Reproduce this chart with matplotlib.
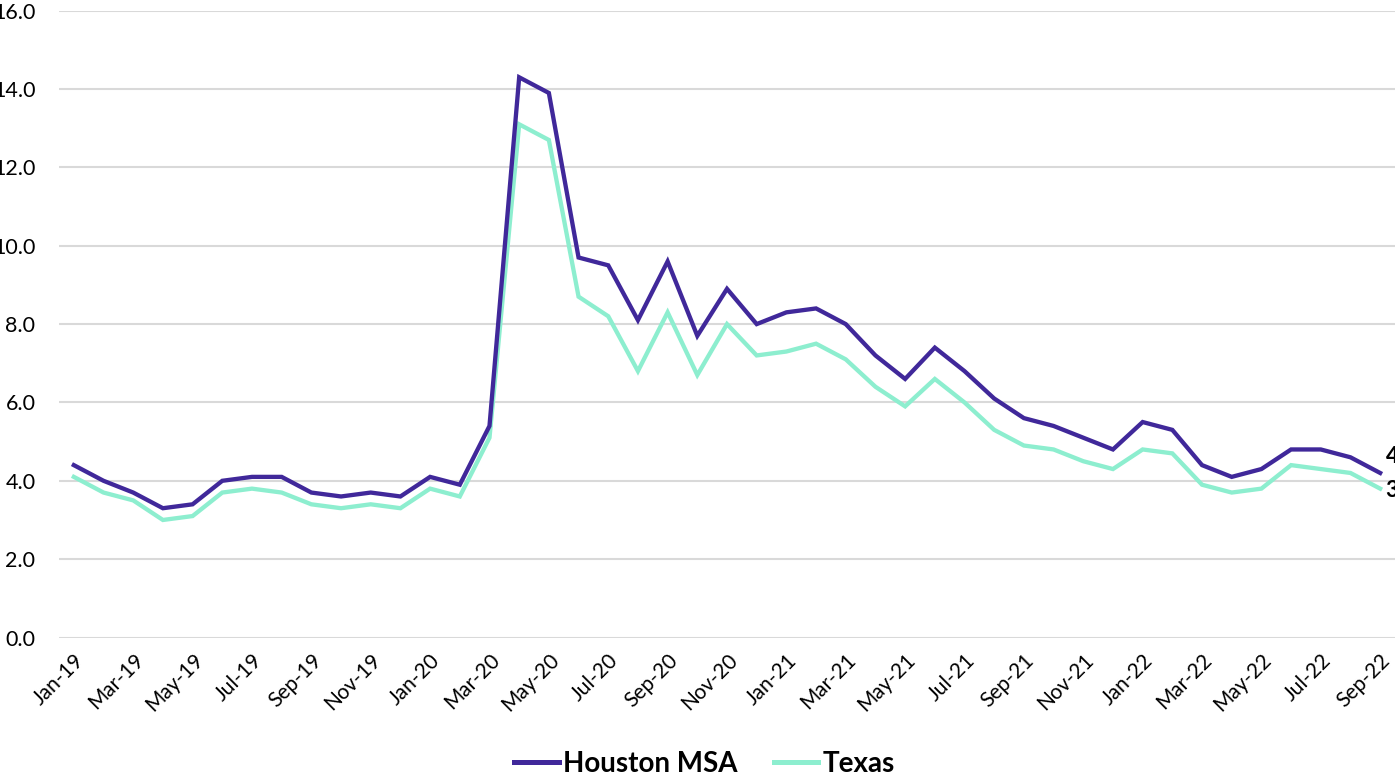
import matplotlib
matplotlib.use("Agg")
import matplotlib.pyplot as plt
import pandas as pd

plt.rcParams['font.family'] = ['Lato', 'DejaVu Sans']

months = pd.date_range('2019-01-01', '2022-09-01', freq='MS').strftime('%b-%y').tolist()

houston = [4.4, 4.0, 3.7, 3.3, 3.4, 4.0, 4.1, 4.1, 3.7, 3.6, 3.7, 3.6,
           4.1, 3.9, 5.4, 14.3, 13.9, 9.7, 9.5, 8.1, 9.6, 7.7, 8.9, 8.0,
           8.3, 8.4, 8.0, 7.2, 6.6, 7.4, 6.8, 6.1, 5.6, 5.4, 5.1, 4.8,
           5.5, 5.3, 4.4, 4.1, 4.3, 4.8, 4.8, 4.6, 4.2]
texas = [4.1, 3.7, 3.5, 3.0, 3.1, 3.7, 3.8, 3.7, 3.4, 3.3, 3.4, 3.3,
         3.8, 3.6, 5.1, 13.1, 12.7, 8.7, 8.2, 6.8, 8.3, 6.7, 8.0, 7.2,
         7.3, 7.5, 7.1, 6.4, 5.9, 6.6, 6.0, 5.3, 4.9, 4.8, 4.5, 4.3,
         4.8, 4.7, 3.9, 3.7, 3.8, 4.4, 4.3, 4.2, 3.8]

yticks = [0, 2, 4, 6, 8, 10, 12, 14, 16]

purple = '#40289a'
mint = '#8deecf'

fig = plt.figure(figsize=(13.95, 7.8), dpi=100)
ax = fig.add_axes([59 / 1395, (780 - 637.5) / 780, 1 - 59 / 1395, (637.5 - 10.7) / 780])

x = list(range(len(months)))
ax.plot(x, houston, color=purple, lw=3.1, label='Houston MSA', solid_joinstyle='miter', zorder=3)
ax.plot(x, texas, color=mint, lw=3.1, label='Texas', solid_joinstyle='miter', zorder=2)

ax.set_xlim(-0.5, len(months) - 0.5)
ax.set_ylim(0, 16)
ax.set_yticks(yticks)
ax.set_yticklabels([f'{v:.1f}' for v in yticks], fontsize=15.5)
ax.set_xticks(x[::2])
ax.set_xticklabels(months[::2], rotation=45, ha='right', va='top',
                   rotation_mode='anchor', fontsize=15)
ax.tick_params(length=0)
ax.tick_params(axis='x', pad=9)
ax.tick_params(axis='y', pad=17)
ax.grid(axis='y', color='#d9d9d9', lw=1.5)
ax.set_axisbelow(True)
for s in ax.spines.values():
    s.set_visible(False)

# end-of-series value labels (they run off the right edge like the original)
ax.annotate(f'{houston[-1]:.1f}', (x[-1], houston[-1]), xytext=(4, 12),
            textcoords='offset points', fontsize=16, fontweight='bold',
            va='center', ha='left', annotation_clip=False)
ax.annotate(f'{texas[-1]:.1f}', (x[-1], texas[-1]), xytext=(4, -1),
            textcoords='offset points', fontsize=16, fontweight='bold',
            va='center', ha='left', annotation_clip=False)

leg = fig.legend(loc='lower center', bbox_to_anchor=(0.505, -0.028), ncol=2,
                 frameon=False, prop={'size': 20, 'weight': 'bold'},
                 handlelength=1.6, handletextpad=0.15, columnspacing=1.3)
for line in leg.get_lines():
    line.set_linewidth(3.6)

fig.savefig('out.png', dpi=100)
